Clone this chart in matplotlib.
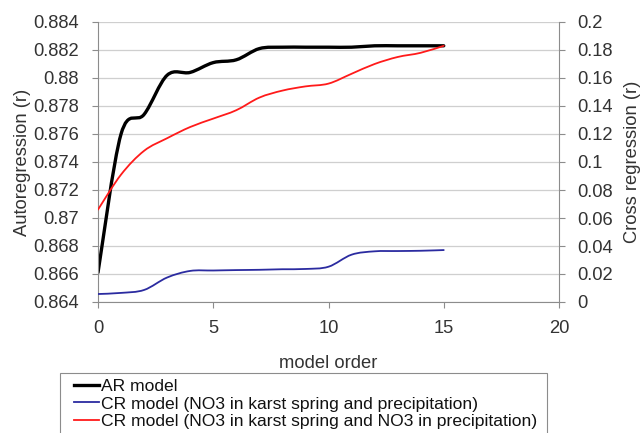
import matplotlib
matplotlib.use('Agg')
import matplotlib.pyplot as plt
from matplotlib.path import Path
from matplotlib.patches import PathPatch, Rectangle
from matplotlib.lines import Line2D
import numpy as np

plt.rcParams['font.family'] = ['Liberation Sans', 'DejaVu Sans']

# model order
order = list(range(16))
# autoregression (left axis)
ar_model = [0.8661, 0.8760, 0.8774, 0.8802, 0.8804, 0.8811, 0.8813, 0.8821,
            0.8822, 0.8822, 0.8822, 0.8822, 0.8823, 0.8823, 0.8823, 0.8823]
# cross regression (right axis)
cr_precip = [0.0057, 0.0065, 0.0086, 0.0175, 0.0222, 0.0225, 0.0228, 0.0230,
             0.0234, 0.0236, 0.0252, 0.0338, 0.0362, 0.0364, 0.0366, 0.0371]
cr_no3 = [0.066, 0.091, 0.108, 0.117, 0.125, 0.131, 0.137, 0.146,
          0.151, 0.154, 0.156, 0.163, 0.170, 0.175, 0.178, 0.183]

legend_labels = ['AR model',
                 'CR model (NO3 in karst spring and precipitation)',
                 'CR model (NO3 in karst spring and NO3 in precipitation)']

grey = '#8c8c8c'
txt = '#333333'
W, H = 640, 433


def smooth_line(ax, x, y, color, lw):
    # Excel style smoothed line: Catmull-Rom segments as cubic beziers
    x = np.asarray(x, float)
    y = np.asarray(y, float)
    verts = [(x[0], y[0])]
    codes = [Path.MOVETO]
    n = len(x)
    for i in range(n - 1):
        p0 = (x[max(i - 1, 0)], y[max(i - 1, 0)])
        p1 = (x[i], y[i])
        p2 = (x[i + 1], y[i + 1])
        p3 = (x[min(i + 2, n - 1)], y[min(i + 2, n - 1)])
        c1 = (p1[0] + (p2[0] - p0[0]) / 6, p1[1] + (p2[1] - p0[1]) / 6)
        c2 = (p2[0] - (p3[0] - p1[0]) / 6, p2[1] - (p3[1] - p1[1]) / 6)
        verts += [c1, c2, p2]
        codes += [Path.CURVE4] * 3
    ax.add_patch(PathPatch(Path(verts, codes), facecolor='none',
                           edgecolor=color, lw=lw, capstyle='round', joinstyle='round'))


fig = plt.figure(figsize=(W / 100, H / 100), dpi=100)
ax = fig.add_axes([98 / W, 1 - 302 / H, 461 / W, 280 / H])
ax2 = ax.twinx()

ax.set_xlim(0, 20)
ax.set_ylim(0.864, 0.884)
ax2.set_ylim(0, 0.2)
ax.set_xticks([0, 5, 10, 15, 20])
ax.set_yticks(np.arange(0.864, 0.8841, 0.002))
ax.set_yticklabels(['0.864', '0.866', '0.868', '0.87', '0.872', '0.874',
                    '0.876', '0.878', '0.88', '0.882', '0.884'])
ax2.set_yticks(np.arange(0, 0.201, 0.02))
ax2.set_yticklabels(['0', '0.02', '0.04', '0.06', '0.08', '0.1',
                     '0.12', '0.14', '0.16', '0.18', '0.2'])
ax.grid(axis='y', color='#cfcfcf', lw=0.9)
ax.set_axisbelow(True)

for a in (ax, ax2):
    for s in a.spines.values():
        s.set_visible(False)
    a.tick_params(colors=grey, labelcolor=txt, labelsize=13.2, length=4, width=0.8)
ax.spines['left'].set_visible(True)
ax.spines['bottom'].set_visible(True)
ax2.spines['right'].set_visible(True)
for s in (ax.spines['left'], ax.spines['bottom'], ax2.spines['right']):
    s.set_color(grey)
    s.set_linewidth(0.8)
ax.tick_params(axis='x', pad=9)
ax.tick_params(axis='y', pad=10)
ax2.tick_params(axis='y', pad=9)

smooth_line(ax, order, ar_model, 'black', 2.4)
smooth_line(ax2, order, cr_precip, '#2b2ba0', 1.3)
smooth_line(ax2, order, cr_no3, '#ff1a1a', 1.3)

ax.set_xlabel('model order', fontsize=13.2, color=txt, labelpad=13)
ax.set_ylabel('Autoregression (r)', fontsize=13.2, color=txt, labelpad=1)
ax2.set_ylabel('Cross regression (r)', fontsize=13.2, color=txt, labelpad=8)

# legend frame (Excel style box, running off the bottom edge)
fig.patches.append(Rectangle((60 / W, -0.02), 487 / W, 1 - 373 / H + 0.02,
                             transform=fig.transFigure, facecolor='white',
                             edgecolor=grey, lw=0.8))

handles = [Line2D([], [], color='black', lw=2.4),
           Line2D([], [], color='#2b2ba0', lw=1.3),
           Line2D([], [], color='#ff1a1a', lw=1.3)]
leg = fig.legend(handles, legend_labels, loc='upper left',
                 bbox_to_anchor=(74 / W, 1 - 379 / H), fontsize=12.6,
                 frameon=False, borderpad=0, labelspacing=0.12,
                 handlelength=1.45, handletextpad=0.12, borderaxespad=0)
for t in leg.get_texts():
    t.set_color('#111111')

fig.savefig('out.png', dpi=100)
